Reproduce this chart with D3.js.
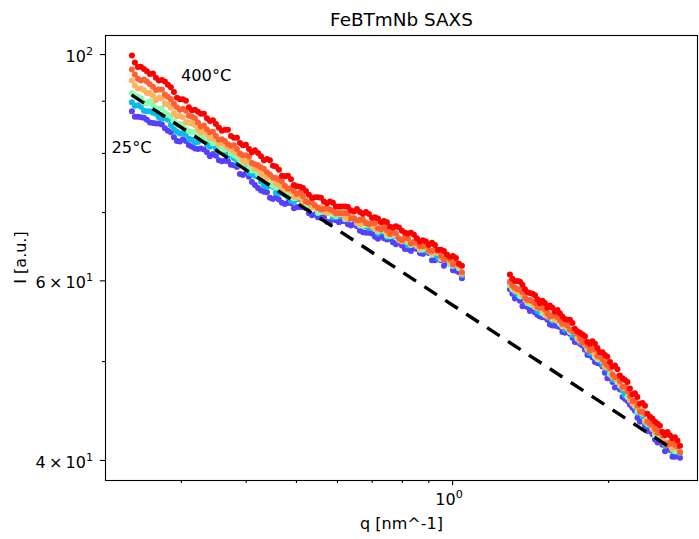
<!DOCTYPE html>
<html><head><meta charset="utf-8">
<script src="https://cdn.jsdelivr.net/npm/d3@7"></script>
<style>body{margin:0;background:#fff} text{font-family:"DejaVu Sans",sans-serif;fill:#000}</style>
</head><body><svg id="c" width="699" height="539"></svg>
<script>
// ---------------- data ----------------
// two interleaved q grids (scan A and scan B)
const qGridA = [
0.2414,0.2479,0.2546,0.2615,0.2685,0.2758,0.2832,0.2909,0.2987,0.3068,0.3151,0.3236,0.3323,0.3413,0.3505,0.3600,0.3697,0.3797,0.3899,0.4005,0.4113,0.4224,0.4338,0.4455,0.4575,0.4699,0.4826,0.4956,0.5090,0.5227,0.5368,0.5513,0.5662,0.5815,0.5972,0.6133,0.6299,0.6469,0.6643,0.6823,0.7007,0.7196,0.7390,0.7590,0.7795,0.8005,0.8221,0.8443,0.8671,0.8905,0.9146,0.9393,0.9646,0.9907,1.0174,1.0449,
1.293,1.322,1.352,1.382,1.413,1.445,1.477,1.510,1.544,1.579,1.614,1.650,1.688,1.725,1.764,1.804,1.844,1.886,1.928,1.971,2.016,2.061,2.107,2.155,2.203,2.252,2.303,2.355,2.408,2.462,2.517,2.574,2.631,2.690,2.751];
const qGridB = [
0.2446,0.2512,0.2580,0.2650,0.2721,0.2795,0.2870,0.2948,0.3027,0.3109,0.3193,0.3279,0.3368,0.3459,0.3552,0.3648,0.3747,0.3848,0.3951,0.4059,0.4168,0.4281,0.4396,0.4515,0.4636,0.4762,0.4891,0.5022,0.5158,0.5297,0.5440,0.5587,0.5738,0.5893,0.6052,0.6215,0.6384,0.6556,0.6732,0.6915,0.7101,0.7293,0.7489,0.7692,0.7900,0.8112,0.8331,0.8556,0.8787,0.9024,0.9269,0.9519,0.9775,1.0040,1.0310,
1.307,1.337,1.367,1.397,1.429,1.461,1.494,1.527,1.561,1.597,1.632,1.668,1.707,1.744,1.784,1.824,1.865,1.907,1.950,1.993,2.039,2.084,2.131,2.179,2.228,2.277,2.329,2.381,2.435,2.490,2.545,2.603,2.660,2.720];

const temperatures = [25, 100, 200, 300, 350, 400];

// intensities on grid A
const I25 = [
87.9,86.8,86.6,85.7,85.5,85.3,84.1,82.9,82.1,82.2,81.1,80.7,80.6,79.4,79.5,78.5,78.5,77.8,76.3,76.4,74.9,73.9,73.3,72.3,72.4,71.5,71.5,70.6,70.8,70.6,69.5,69.2,69.2,68.4,68.7,68.6,68.1,68.1,67.1,66.8,66.7,65.9,66.0,65.9,65.1,64.9,64.4,64.5,63.8,64.0,62.8,63.1,62.0,62.3,61.3,60.3,
58.8,57.6,57.3,56.8,56.0,55.8,55.3,55.2,54.3,54.2,54.0,53.3,53.2,52.2,52.0,51.3,50.7,49.9,49.7,48.7,48.1,47.1,46.9,45.9,45.3,44.7,43.6,43.2,42.7,41.9,41.8,40.8,40.9,40.3,40.2];
const I100 = [
89.7,89.1,88.0,87.9,87.4,86.4,86.2,84.5,83.6,83.5,82.4,82.0,82.2,81.1,80.9,80.4,79.4,79.1,77.8,77.5,76.3,75.8,74.3,74.3,73.1,73.1,72.4,71.7,72.0,71.2,71.0,69.8,70.0,69.9,69.2,69.4,68.8,69.0,68.0,67.8,67.8,66.7,66.9,66.2,66.3,65.7,64.9,65.4,64.4,64.2,63.9,63.1,63.2,62.4,62.0,60.7,
59.5,58.4,58.1,57.6,56.8,56.6,55.8,55.9,55.1,54.8,54.6,53.7,53.6,53.2,52.2,51.9,50.9,51.0,50.0,49.4,48.8,47.9,47.5,46.3,46.0,45.1,44.6,43.5,43.2,42.4,42.3,41.3,41.4,40.8,40.6];
const I200 = [
91.6,90.8,89.6,89.9,88.5,88.5,87.2,85.9,85.4,84.4,83.8,83.5,82.6,82.4,81.8,80.6,80.7,79.6,78.6,78.2,76.9,76.3,75.6,74.6,74.3,73.3,73.2,72.2,72.4,71.1,71.0,69.9,70.3,69.8,69.4,69.7,69.1,69.1,67.9,68.0,67.9,67.0,67.1,66.3,66.6,65.6,65.4,65.4,64.3,64.5,63.6,63.8,63.1,62.3,62.3,61.0,
59.3,59.0,57.9,57.8,56.9,56.5,56.3,55.5,55.4,55.1,54.4,54.3,53.4,53.4,52.4,51.9,51.3,50.5,50.4,49.7,48.5,48.2,47.3,47.0,45.8,45.2,44.7,43.7,43.4,42.3,42.3,41.6,41.4,40.8,40.8];
const I300 = [
94.2,92.5,92.2,91.6,90.1,90.5,89.2,87.5,87.0,85.8,85.5,84.5,83.9,82.7,82.4,81.8,80.9,80.3,79.5,78.3,77.9,77.1,75.8,75.8,74.7,74.0,73.7,72.5,72.5,71.9,70.8,70.6,70.1,70.2,69.6,69.9,69.0,69.1,68.1,68.4,67.8,67.2,67.4,66.5,66.6,65.5,65.6,65.5,64.5,64.6,63.8,64.0,63.0,62.6,62.3,60.9,
59.7,58.6,58.4,57.7,57.4,56.5,56.4,55.7,55.6,54.9,54.9,54.1,53.7,53.4,52.4,52.1,51.4,50.8,50.6,49.4,49.1,48.1,47.5,47.0,45.8,45.4,44.8,43.7,43.4,42.6,42.6,41.5,41.3,41.3,40.7];
const I350 = [
96.6,94.6,94.4,93.4,92.2,92.3,90.8,89.4,88.2,88.0,86.8,85.7,85.1,83.8,83.1,82.5,81.6,81.4,79.9,79.6,78.2,77.8,77.2,76.2,75.6,75.0,73.8,73.4,73.1,71.7,71.6,70.7,70.5,70.4,69.8,69.8,69.8,69.0,68.8,68.3,68.3,67.5,67.7,66.6,66.7,65.7,66.0,65.4,64.8,65.0,64.1,64.1,62.9,62.9,62.5,61.1,
59.8,59.0,58.8,57.7,57.4,57.0,56.4,56.2,55.3,55.4,54.8,54.5,53.7,53.4,52.6,52.3,51.2,51.3,50.5,49.8,49.2,48.2,47.8,47.2,46.2,45.7,44.6,44.4,43.4,42.9,42.6,41.5,41.6,41.4,40.7];
const I400 = [
99.7,97.1,96.7,95.6,94.8,94.3,93.3,91.8,90.3,90.0,88.1,87.8,87.4,86.0,85.4,84.1,84.3,82.8,81.8,81.5,80.1,80.0,78.7,78.7,77.6,76.0,76.0,74.4,74.1,73.4,72.3,72.4,71.7,71.7,70.9,70.9,70.8,70.1,70.0,70.0,69.1,69.0,68.6,67.7,67.8,67.1,66.7,66.5,65.5,65.5,65.3,64.3,64.1,63.3,63.1,62.0,
60.8,59.9,59.8,58.8,58.3,58.0,57.0,57.0,56.7,55.9,55.7,55.0,54.9,53.8,53.3,52.9,52.0,52.0,51.0,50.7,49.9,49.5,48.4,47.9,47.0,46.5,45.4,45.2,44.1,43.6,43.2,42.3,42.3,42.1,41.3];

// intensities on grid B
const I25b = [
86.8,86.7,86.2,85.6,85.5,84.6,83.8,82.2,82.5,81.4,80.8,80.8,80.1,79.8,78.7,78.6,77.9,77.5,76.1,75.8,74.4,73.5,73.2,72.1,72.0,71.3,71.4,70.8,70.8,69.8,69.6,69.1,68.5,68.9,68.4,68.6,67.9,67.8,66.9,66.8,66.2,66.3,65.8,65.4,65.3,64.4,64.1,64.4,63.7,63.8,62.8,62.8,62.5,61.4,61.1,
58.2,57.8,56.6,56.5,56.2,55.5,55.2,54.9,54.2,54.1,53.4,53.5,52.7,52.2,51.8,50.7,50.4,49.8,49.4,48.1,47.7,47.2,46.1,45.7,45.0,44.0,43.7,42.7,42.4,41.6,41.4,41.0,40.3,40.4];
const I100b = [
89.0,88.8,87.9,87.6,86.7,86.6,85.2,83.9,83.7,82.6,81.9,82.4,81.6,81.5,80.2,80.0,79.6,78.2,77.8,76.5,76.0,75.0,74.1,74.1,73.0,72.8,71.8,72.1,71.4,70.7,70.7,70.0,69.9,69.2,69.4,69.0,69.1,68.2,68.1,67.5,67.3,67.2,66.2,66.3,65.6,65.6,65.0,65.1,64.2,64.0,63.6,62.9,62.9,62.0,61.6,
59.0,58.1,57.8,57.0,56.7,56.0,55.9,55.5,54.8,54.7,54.1,53.9,53.0,52.8,52.3,51.3,50.8,50.6,49.6,49.1,48.0,47.9,46.8,46.2,45.7,44.5,44.1,43.3,43.0,42.0,41.9,41.5,40.8,40.7];
const I200b = [
91.0,90.5,89.5,89.2,88.4,87.6,86.9,85.3,85.1,84.0,83.8,83.0,82.7,81.7,81.4,80.6,79.9,79.3,78.0,77.3,76.9,75.6,75.5,74.3,73.9,73.5,72.4,72.4,71.3,71.2,70.6,70.0,70.2,69.6,69.7,68.9,69.3,68.4,67.9,68.1,67.4,67.2,66.4,66.4,65.8,65.8,65.0,65.1,64.4,64.1,64.0,63.0,62.9,62.0,61.7,
58.8,58.5,58.0,57.0,56.8,56.4,55.7,55.7,55.0,54.8,54.1,53.9,53.5,52.6,52.2,51.4,51.1,50.2,50.0,49.3,48.3,47.7,47.2,46.1,45.7,44.6,44.4,43.4,42.9,42.6,41.7,41.5,41.0,41.0];
const I300b = [
93.1,92.5,91.6,91.0,90.6,89.5,88.6,86.9,86.7,85.6,85.2,83.8,83.5,82.7,81.6,81.5,80.6,80.0,78.7,78.5,77.2,76.5,75.6,75.4,74.4,73.6,73.3,72.3,71.6,71.5,70.7,70.8,69.9,70.0,70.0,69.1,69.3,68.3,68.4,68.0,67.4,67.5,66.7,66.7,65.8,66.1,65.2,64.8,64.9,64.2,64.0,63.1,63.0,62.2,61.9,
59.1,58.6,58.1,57.2,57.0,56.4,56.2,55.3,55.3,55.0,54.2,53.9,53.6,52.7,52.4,51.5,51.1,50.4,50.1,49.4,48.3,48.0,47.1,46.7,45.4,45.1,44.5,43.5,43.0,42.7,41.8,41.6,41.0,41.2];
const I350b = [
95.5,94.2,94.0,92.9,92.3,91.3,90.3,88.7,88.4,87.0,86.5,84.9,84.4,83.9,82.4,82.2,81.3,80.7,79.6,79.3,78.0,77.4,76.6,75.7,75.3,74.3,73.9,72.9,72.5,71.5,71.1,70.4,70.6,70.2,69.8,69.8,69.0,68.7,68.8,68.1,68.3,67.3,67.2,67.0,66.0,66.1,65.2,65.3,64.8,64.2,64.3,63.4,63.2,62.2,62.2,
59.3,58.8,58.4,57.4,57.2,56.5,56.5,55.7,55.4,55.2,54.4,54.2,53.5,53.2,52.1,51.8,51.4,50.6,50.2,49.5,48.5,48.3,47.2,46.7,45.7,45.2,44.6,43.6,43.3,42.5,42.3,41.4,41.5,41.2];
const I400b = [
98.1,97.2,96.2,95.7,94.2,94.0,92.8,90.6,90.3,88.7,88.2,87.4,86.5,86.1,84.7,84.3,83.1,82.8,81.4,80.7,80.5,79.4,78.9,77.7,77.0,75.9,75.4,74.2,73.9,72.8,72.4,72.3,71.4,71.5,70.9,70.9,70.3,70.5,69.7,69.7,69.2,68.4,68.4,67.6,67.6,66.8,66.8,66.0,65.7,65.0,65.0,64.3,63.6,63.4,62.3,
60.2,59.9,59.4,58.4,58.2,57.5,57.3,56.4,56.4,56.1,55.3,54.9,54.5,53.5,53.1,52.2,52.3,51.5,51.0,50.5,49.4,49.1,48.1,47.7,46.4,46.1,45.5,44.4,43.9,43.4,42.6,42.6,42.0,41.8];

const seriesA = [I25, I100, I200, I300, I350, I400];
const seriesB = [I25b, I100b, I200b, I300b, I350b, I400b];

// power-law guide line (dashed)
const fitQ = [0.241, 2.66];
const fitI = [91.2, 41.0];

// ticks
const xMajorTicks = [1];
const xMajorLabels = [["10", "0"]];
const xMinorTicks = [0.3, 0.4, 0.5, 0.6, 0.7, 0.8, 0.9, 2];
const yMajorTicks = [100, 60, 40];
const yMajorLabels = [["10", "2"], ["6\u2009\u00d7\u200910", "1"], ["4\u2009\u00d7\u200910", "1"]];
const yMinorTicks = [50, 70, 80, 90];

// annotations (data coordinates)
const annotationText = ["400\u00b0C", "25\u00b0C"];
const annotationQ = [0.300, 0.2204];
const annotationI = [94.1, 80.0];

// ---------------- drawing ----------------
const svg = d3.select("#c");
const L = 105, R = 698, T = 35, B = 480;

const x = d3.scaleLog().domain([0.2142, 2.980]).range([L, R]);
const y = d3.scaleLog().domain([38.23, 104.4]).range([B, T]);

// matplotlib "rainbow" colormap
function rainbow(t) {
  const c = v => Math.round(255 * Math.max(0, Math.min(1, v)));
  return `rgb(${c(Math.abs(2 * t - 0.5))},${c(Math.sin(Math.PI * t))},${c(Math.cos(Math.PI * t / 2))})`;
}
const tempNorm = d3.scaleLinear().domain([25, 400]).range([0.08, 1]);

svg.append("defs").append("clipPath").attr("id", "clip")
  .append("rect").attr("x", L).attr("y", T).attr("width", R - L).attr("height", B - T);

const plot = svg.append("g").attr("clip-path", "url(#clip)");

temperatures.forEach((T_, i) => {
  const pts = d3.zip(qGridA, seriesA[i]).concat(d3.zip(qGridB, seriesB[i]));
  plot.append("g").selectAll("circle").data(pts).join("circle")
    .attr("cx", d => x(d[0]))
    .attr("cy", d => y(d[1]))
    .attr("r", 3)
    .attr("fill", rainbow(tempNorm(T_)));
});

plot.append("path")
  .datum(d3.zip(fitQ, fitI))
  .attr("d", d3.line().x(d => x(d[0])).y(d => y(d[1])))
  .attr("fill", "none").attr("stroke", "#000")
  .attr("stroke-width", 3.4).attr("stroke-dasharray", "15,10");

// annotations
annotationText.forEach((t, i) => {
  svg.append("text").attr("x", x(annotationQ[i])).attr("y", y(annotationI[i]))
    .attr("font-size", 16.3).text(t);
});

// axes ticks
const gx = svg.append("g").attr("transform", `translate(0,${B})`);
gx.call(d3.axisBottom(x).tickValues(xMajorTicks).tickSize(5.2).tickFormat(""));
gx.append("g").call(d3.axisBottom(x).tickValues(xMinorTicks).tickSize(3).tickFormat(""));
const gy = svg.append("g").attr("transform", `translate(${L},0)`);
gy.call(d3.axisLeft(y).tickValues(yMajorTicks).tickSize(5.2).tickFormat(""));
gy.append("g").call(d3.axisLeft(y).tickValues(yMinorTicks).tickSize(3).tickFormat(""));
svg.selectAll(".domain").remove();
svg.selectAll(".tick line").attr("stroke", "#000").attr("stroke-width", 1.1);

// tick labels
xMajorTicks.forEach((v, i) => {
  const t = svg.append("text").attr("x", x(v) - 3).attr("y", 505)
    .attr("text-anchor", "middle").attr("font-size", 16);
  t.append("tspan").text(xMajorLabels[i][0]);
  t.append("tspan").attr("dy", -7).attr("font-size", 11.2).text(xMajorLabels[i][1]);
});
yMajorTicks.forEach((v, i) => {
  const t = svg.append("text").attr("x", 93).attr("y", y(v) + 8)
    .attr("text-anchor", "end").attr("font-size", 16);
  const lab = yMajorLabels[i];
  t.append("tspan").text(lab[0]);
  t.append("tspan").attr("dy", -7).attr("font-size", 11.2).text(lab[1]);
});

// frame
svg.append("rect").attr("x", L + 0.5).attr("y", T + 0.5)
  .attr("width", R - L - 1).attr("height", B - T)
  .attr("fill", "none").attr("stroke", "#000").attr("stroke-width", 1.1);

// titles
svg.append("text").attr("x", (L + R) / 2).attr("y", 26).attr("text-anchor", "middle")
  .attr("font-size", 18.4).text("FeBTmNb SAXS");
svg.append("text").attr("x", (L + R) / 2).attr("y", 529).attr("text-anchor", "middle")
  .attr("font-size", 16).text("q [nm^-1]");
svg.append("text").attr("transform", `translate(26,${(T + B) / 2}) rotate(-90)`)
  .attr("text-anchor", "middle").attr("font-size", 16).text("I [a.u.]");
</script></body></html>
